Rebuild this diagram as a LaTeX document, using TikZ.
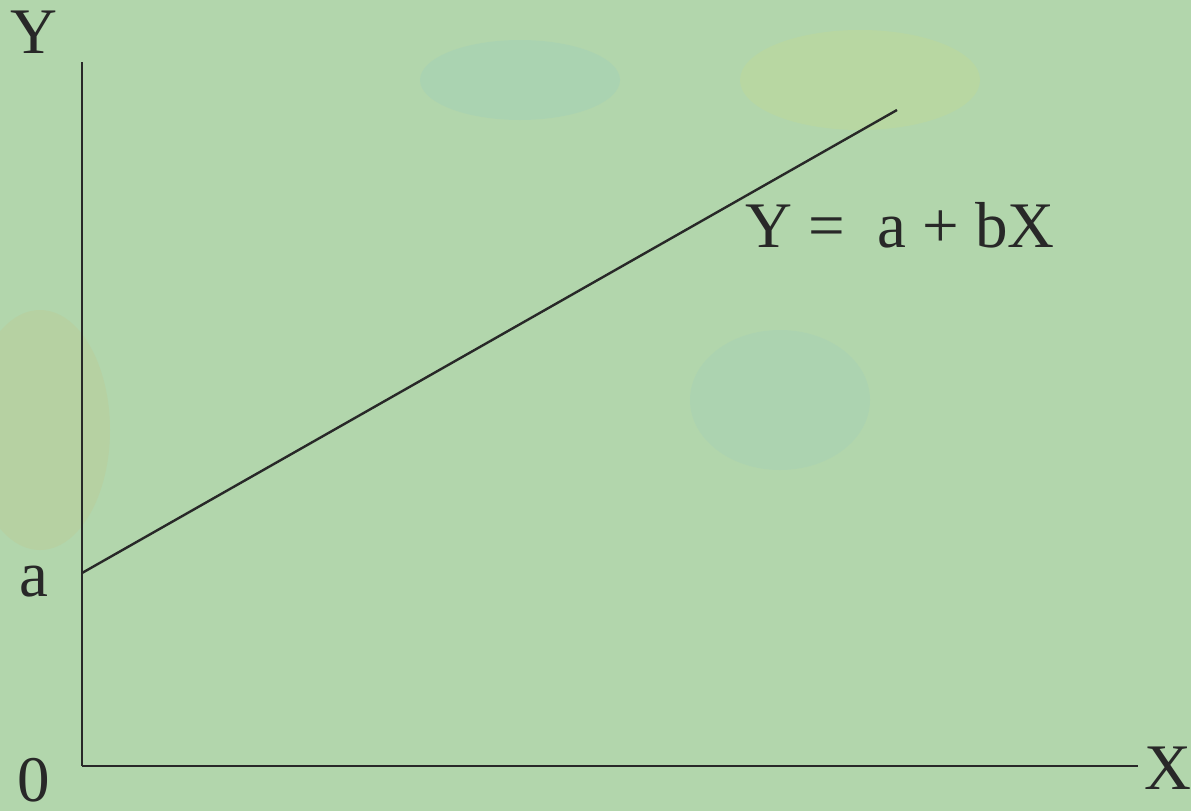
\documentclass[tikz,border=0pt]{standalone}
\usepackage{fontspec}
\setmainfont{Liberation Serif}
\usepackage{tikz}
\definecolor{bgreen}{RGB}{178,214,172}
\definecolor{ink}{RGB}{40,40,40}

\begin{document}
\begin{tikzpicture}[x=1pt,y=-1pt,
    lbl/.style={inner sep=0pt, text=ink, font=\fontsize{65}{78}\selectfont},
    axis/.style={draw=ink, line width=2.4pt},
    blob/.style={opacity=0.18}]
                        % Background
                        \fill[bgreen] (0,0) rectangle (1191,811);
                        \useasboundingbox (0,0) rectangle (1191,811);
                        \fill[blob, yellow!40!bgreen] (860,80) ellipse (120 and 50);
                        \fill[blob, cyan!30!bgreen] (520,80) ellipse (100 and 40);
                        \fill[blob, orange!30!bgreen] (40,430) ellipse (70 and 120);
                        \fill[blob, cyan!25!bgreen] (780,400) ellipse (90 and 70);

                        % Nodes
                        \coordinate (O) at (82,766);
                        \coordinate (ytop) at (82,62);
                        \coordinate (xend) at (1138,766);
                        \coordinate (ic) at (82,573);
                        \coordinate (lend) at (897,110);
                        \node[lbl] (ylbl) at (34,32) {Y};
                        \node[lbl] (albl) at (34,582) {a};
                        \node[lbl] (olbl) at (34,780) {0};
                        \node[lbl] (xlbl) at (1168,768) {X};
                        \node[lbl] (eqn) at (900,225) {Y =\ \ a + bX};

                        % Edges
                        \draw[axis] (ytop) -- (O);
                        \draw[axis] (O) -- (xend);
                        \draw[axis] (ic) -- (lend);
                    \end{tikzpicture}
\end{document}
